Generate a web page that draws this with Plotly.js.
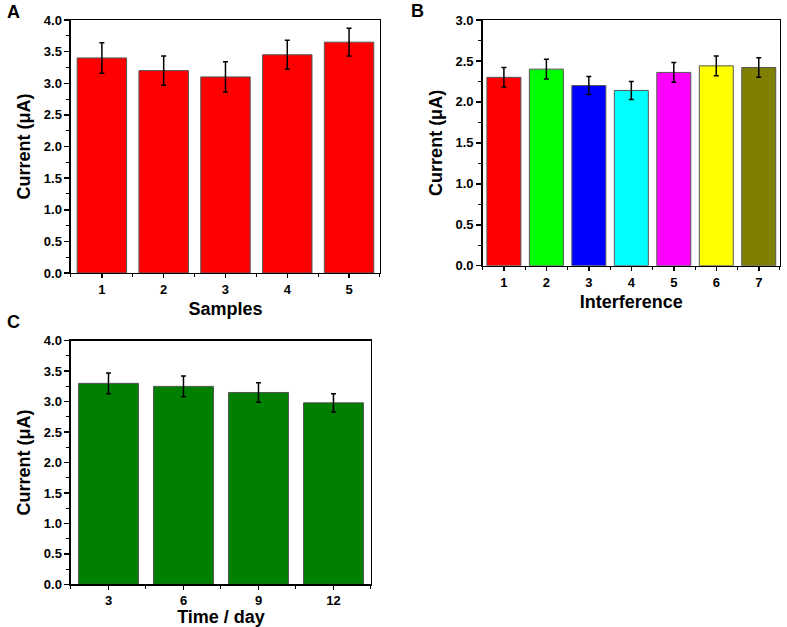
<!DOCTYPE html>
<html>
<head>
<meta charset="utf-8">
<script src="https://cdn.plot.ly/plotly-3.0.1.min.js"></script>
<style>html,body{margin:0;padding:0;background:#fff;}#chart{width:787px;height:627px;}</style>
</head>
<body>
<div id="chart"></div>
<script>
// Panel A: samples
const samples = [1, 2, 3, 4, 5];
const samplesCurrent = [3.40, 3.20, 3.10, 3.45, 3.65];
const samplesError = [0.24, 0.23, 0.24, 0.23, 0.22];

// Panel B: interference
const interference = [1, 2, 3, 4, 5, 6, 7];
const interferenceCurrent = [2.30, 2.40, 2.20, 2.14, 2.36, 2.44, 2.42];
const interferenceError = [0.12, 0.12, 0.11, 0.11, 0.12, 0.12, 0.12];
const interferenceColors = ['#ff0000', '#00ff00', '#0000ff', '#00ffff', '#ff00ff', '#ffff00', '#808000'];

// Panel C: stability over time
const days = ['3', '6', '9', '12'];
const dayCurrent = [3.30, 3.25, 3.15, 2.98];
const dayError = [0.17, 0.17, 0.16, 0.15];

const FONT = 'Liberation Sans, Arial, sans-serif';
const dayPos = days.map((d, i) => i + 1);

function errBar(arr) {
  return {type: 'data', array: arr, visible: true, color: '#000', thickness: 1.5, width: 2.5};
}
const barLine = {color: '#555', width: 1};

const traces = [
  {type: 'bar', x: samples, y: samplesCurrent, error_y: errBar(samplesError),
   marker: {color: '#ff0000', line: barLine}, width: 0.8, xaxis: 'x', yaxis: 'y', hoverinfo: 'none'},
  {type: 'bar', x: interference, y: interferenceCurrent, error_y: errBar(interferenceError),
   marker: {color: interferenceColors, line: barLine}, width: 0.8, xaxis: 'x2', yaxis: 'y2', hoverinfo: 'none'},
  {type: 'bar', x: dayPos, y: dayCurrent, error_y: errBar(dayError),
   marker: {color: '#008000', line: barLine}, width: 0.8, xaxis: 'x3', yaxis: 'y3', hoverinfo: 'none'}
];

const tickFont = {family: FONT, size: 13, color: '#000', weight: 'bold'};
const titleFont = {family: FONT, size: 18, color: '#000', weight: 'bold'};

function xAxis(domain, anchor, range, title, extra) {
  return Object.assign({
    domain: domain, anchor: anchor, range: range,
    showline: true, linecolor: '#000', linewidth: 1.5, mirror: true,
    showgrid: false, zeroline: false,
    ticks: 'outside', ticklen: 4, tickwidth: 1.5, tickcolor: '#000',
    tickmode: 'linear', tick0: 1, dtick: 1,
    minor: {ticks: 'outside', ticklen: 3, tickwidth: 1, tickcolor: '#000', tick0: 0.5, dtick: 1},
    tickfont: tickFont,
    title: {text: title, font: titleFont, standoff: 6},
    automargin: false, fixedrange: true
  }, extra || {});
}
function yAxis(domain, anchor, range, dtick, minorDtick) {
  return {
    domain: domain, anchor: anchor, range: range,
    showline: true, linecolor: '#000', linewidth: 1.5, mirror: true,
    showgrid: false, zeroline: false,
    ticks: 'outside', ticklen: 5, tickwidth: 1.5, tickcolor: '#000',
    tickmode: 'linear', tick0: 0, dtick: dtick, tickformat: '.1f',
    minor: {ticks: 'outside', ticklen: 3, tickwidth: 1, tickcolor: '#000', dtick: minorDtick},
    tickfont: tickFont,
    title: {text: 'Current (μA)', font: titleFont, standoff: 8},
    automargin: false, fixedrange: true
  };
}

const layout = {
  width: 787, height: 627,
  margin: {l: 0, r: 0, t: 0, b: 0},
  paper_bgcolor: '#fff', plot_bgcolor: '#fff',
  showlegend: false,
  bargap: 0.2,
  xaxis: xAxis([0.0902, 0.4828], 'y', [0.5, 5.5], 'Samples'),
  yaxis: yAxis([0.5646, 0.9681], 'x', [0, 4], 0.5, 0.25),
  xaxis2: xAxis([0.6133, 0.9911], 'y2', [0.5, 7.5], 'Interference'),
  yaxis2: yAxis([0.5762, 0.9681], 'x2', [0, 3], 0.5, 0.25),
  xaxis3: xAxis([0.0902, 0.4714], 'y3', [0.5, 4.5], 'Time / day',
    {tickmode: 'array', tickvals: dayPos, ticktext: days}),
  yaxis3: yAxis([0.0681, 0.4566], 'x3', [0, 4], 0.5, 0.25),
  annotations: [
    {text: 'A', x: 13 / 787, y: 1 - 12 / 627, xref: 'paper', yref: 'paper', showarrow: false,
     font: {family: FONT, size: 18, color: '#000', weight: 'bold'}, xanchor: 'center', yanchor: 'middle'},
    {text: 'B', x: 417 / 787, y: 1 - 11 / 627, xref: 'paper', yref: 'paper', showarrow: false,
     font: {family: FONT, size: 18, color: '#000', weight: 'bold'}, xanchor: 'center', yanchor: 'middle'},
    {text: 'C', x: 13 / 787, y: 1 - 322 / 627, xref: 'paper', yref: 'paper', showarrow: false,
     font: {family: FONT, size: 18, color: '#000', weight: 'bold'}, xanchor: 'center', yanchor: 'middle'}
  ]
};

Plotly.newPlot('chart', traces, layout, {staticPlot: true, displayModeBar: false});
</script>
</body>
</html>
